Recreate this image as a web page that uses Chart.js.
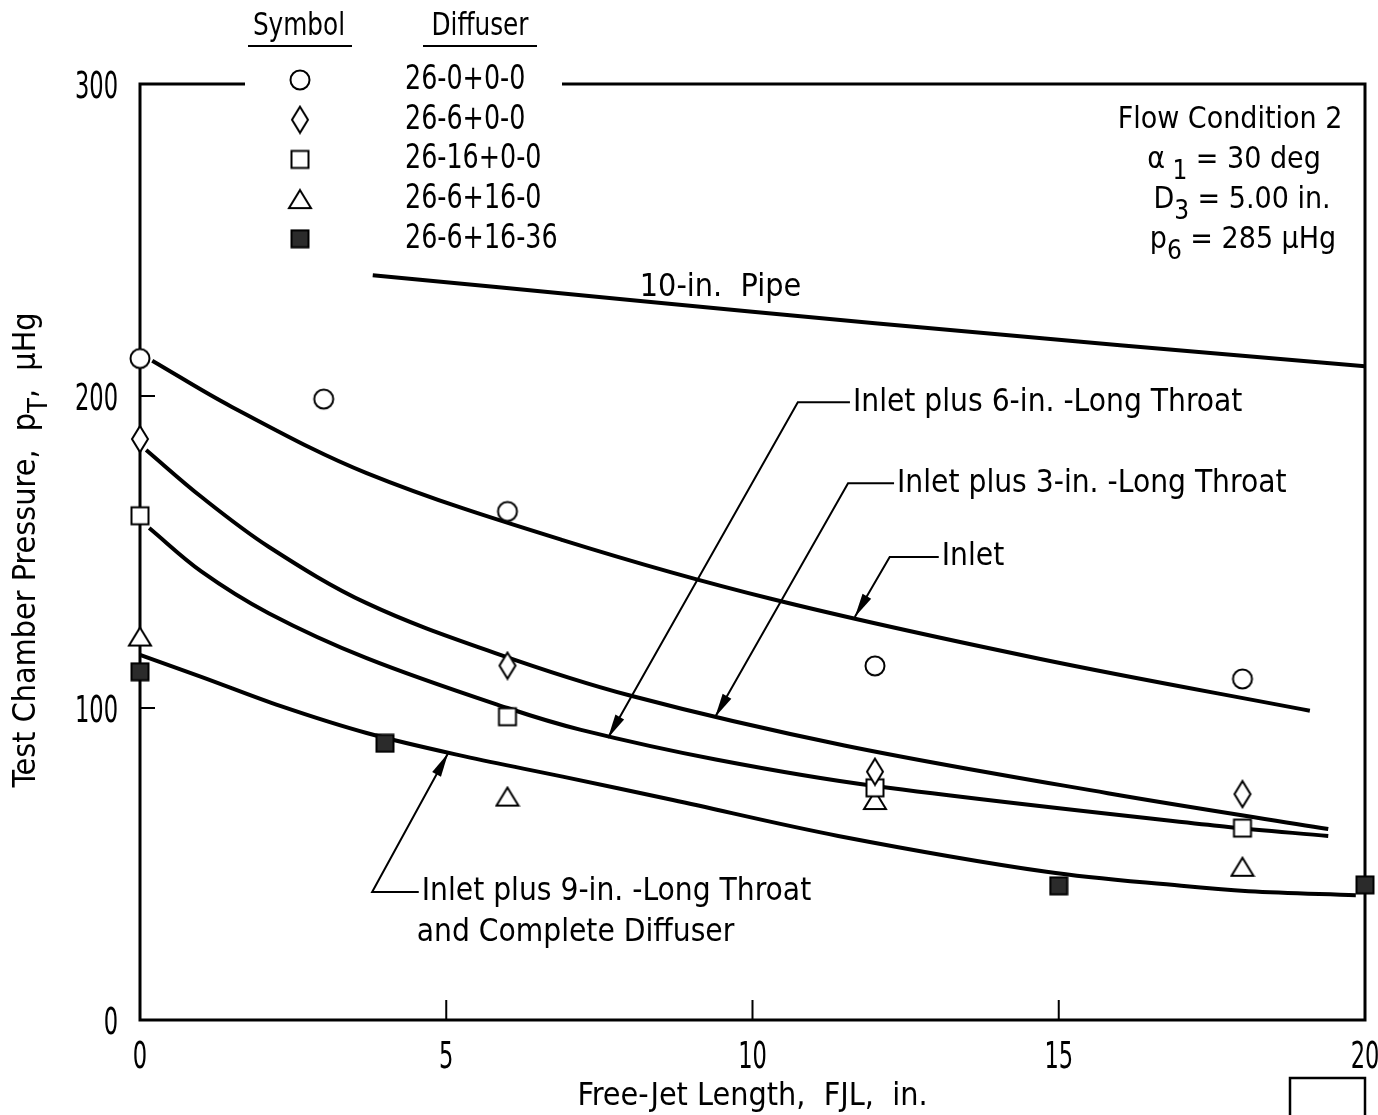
<!DOCTYPE html>
<html lang="en">
  <head>
    <meta charset="UTF-8" />
    <title>Test Chamber Pressure vs Free-Jet Length</title>
    <script src="https://cdn.jsdelivr.net/npm/chart.js"></script>
    <style>
      html, body { margin: 0; padding: 0; background: #fff; }
      #wrap { width: 1378px; height: 1115px; position: relative; }
    </style>
  </head>
  <body>
    <div id="wrap"><canvas id="myChart"></canvas></div>

    <script>
      // ---- data ----
      const xTicks = [0, 5, 10, 15, 20];
      const yTicks = [0, 100, 200, 300];

      const diffusers = ["26-0+0-0", "26-6+0-0", "26-16+0-0", "26-6+16-0", "26-6+16-36"];

      const circleX = [0, 3, 6, 12, 18];
      const circleY = [212, 199, 163, 113.5, 109.3];
      const diamondX = [0, 6, 12, 18];
      const diamondY = [186.2, 113.6, 79.6, 72.4];
      const squareX = [0, 6, 12, 18];
      const squareY = [161.6, 97.2, 74.4, 61.5];
      const triangleX = [0, 6, 12, 18];
      const triangleY = [122.9, 71.6, 70.5, 49.1];
      const filledX = [0, 4, 15, 20];
      const filledY = [111.6, 88.7, 43, 43.3];

      const pipeX = [3.8, 8, 12, 16, 20];
      const pipeY = [238.7, 230.8, 223.3, 216.3, 209.5];
      const inletX = [0.2, 1.5, 3.7, 6.9, 10.3, 14.7, 19.1];
      const inletY = [211.3, 196.5, 175.3, 153.8, 135, 115.7, 99.1];
      const throat3X = [0.1, 1, 2.1, 3.7, 5.8, 8, 11.5, 15.8, 19.4];
      const throat3Y = [182.7, 167.7, 151.7, 133.6, 117.6, 104, 88, 72.7, 61.2];
      const throat6X = [0.15, 1, 2.1, 3.7, 6, 7.2, 9.4, 12, 17.7, 19.4];
      const throat6Y = [157.7, 143.8, 130.4, 116, 100, 93, 83.5, 75, 62, 59];
      const throat9X = [0, 1, 2.3, 3.7, 5.3, 6.9, 8.7, 11.4, 14.8, 17, 18.1, 19.85];
      const throat9Y = [117, 110, 100.6, 92, 84.5, 78, 70.5, 59, 47.5, 43, 41.3, 40];

      const FONT = '"DejaVu Sans Condensed", "DejaVu Sans", sans-serif';

      function pts(xs, ys) {
        return xs.map((x, i) => ({ x: x, y: ys[i] }));
      }

      // small canvases used as point styles
      function marker(kind) {
        const c = document.createElement("canvas");
        const sizes = { circle: [24, 24], diamond: [20, 30], square: [22, 22], triangle: [26, 22], filled: [20, 20] };
        c.width = sizes[kind][0];
        c.height = sizes[kind][1];
        const g = c.getContext("2d");
        const w = c.width, h = c.height;
        g.lineWidth = 2;
        g.strokeStyle = "#000";
        g.fillStyle = "#fff";
        g.beginPath();
        if (kind === "circle") {
          g.arc(w / 2, h / 2, 9.5, 0, Math.PI * 2);
        } else if (kind === "diamond") {
          g.moveTo(w / 2, 2);
          g.lineTo(w - 2, h / 2);
          g.lineTo(w / 2, h - 2);
          g.lineTo(2, h / 2);
          g.closePath();
        } else if (kind === "square") {
          g.rect(2.5, 2.5, w - 5, h - 5);
        } else if (kind === "triangle") {
          g.moveTo(w / 2, 2);
          g.lineTo(w - 2, h - 2);
          g.lineTo(2, h - 2);
          g.closePath();
        } else {
          g.rect(1.5, 1.5, w - 3, h - 3);
          g.fillStyle = "#2b2b2b";
        }
        g.fill();
        g.stroke();
        return c;
      }

      function curve(xs, ys) {
        return {
          type: "line",
          data: pts(xs, ys),
          borderColor: "#000",
          borderWidth: 4,
          pointRadius: 0,
          tension: 0.35,
          order: 2,
        };
      }

      function symbols(label, xs, ys, kind) {
        return {
          type: "scatter",
          label: label,
          data: pts(xs, ys),
          pointStyle: marker(kind),
          pointRadius: 10,
          clip: false,
          order: 1,
        };
      }

      const markerSets = [
        symbols(diffusers[0], circleX, circleY, "circle"),
        symbols(diffusers[1], diamondX, diamondY, "diamond"),
        symbols(diffusers[2], squareX, squareY, "square"),
        symbols(diffusers[3], triangleX, triangleY, "triangle"),
        symbols(diffusers[4], filledX, filledY, "filled"),
      ];

      // condensed-looking text: squeeze horizontally
      function sText(ctx, str, x, y, size, sx, align) {
        ctx.save();
        ctx.translate(x, y);
        ctx.scale(sx, 1);
        ctx.font = size + "px " + FONT;
        ctx.textAlign = align || "left";
        ctx.textBaseline = "middle";
        ctx.fillText(str, 0, 0);
        ctx.restore();
      }

      // text with subscripts: parts = [[text, isSub], ...]
      function richText(ctx, parts, x, y, size, sx, align) {
        const big = size + "px " + FONT;
        const small = Math.round(size * 0.85) + "px " + FONT;
        let total = 0;
        parts.forEach((p) => {
          ctx.font = p[1] ? small : big;
          total += ctx.measureText(p[0]).width;
        });
        ctx.save();
        ctx.translate(x, y);
        ctx.scale(sx, 1);
        let cx = align === "center" ? -total / 2 : 0;
        ctx.textAlign = "left";
        ctx.textBaseline = "middle";
        parts.forEach((p) => {
          ctx.font = p[1] ? small : big;
          ctx.fillText(p[0], cx, p[1] ? size * 0.4 : 0);
          cx += ctx.measureText(p[0]).width;
        });
        ctx.restore();
      }

      // leader lines: text anchor, elbow, arrow tip (data units)
      const leaders = [
        { lines: ["Inlet plus 6-in. -Long Throat"], text: [11.64, 198], elbow: [10.74, 198], tip: [7.64, 90.4] },
        { lines: ["Inlet plus 3-in. -Long Throat"], text: [12.36, 172], elbow: [11.56, 172], tip: [9.39, 97.1] },
        { lines: ["Inlet"], text: [13.09, 148.4], elbow: [12.24, 148.4], tip: [11.67, 129.2] },
        { lines: ["Inlet plus 9-in. -Long Throat", "and Complete Diffuser"], text: [4.6, 41], elbow: [3.79, 41], tip: [5.03, 85.5] },
      ];

      const decorations = {
        id: "decorations",
        beforeDatasetsDraw(chart) {
          const ctx = chart.ctx;
          const a = chart.chartArea;
          const xs = chart.scales.x, ys = chart.scales.y;
          ctx.save();
          ctx.strokeStyle = "#000";
          ctx.lineWidth = 3;
          ctx.beginPath();
          ctx.moveTo(245, a.top);
          ctx.lineTo(a.left, a.top);
          ctx.lineTo(a.left, a.bottom);
          ctx.lineTo(a.right, a.bottom);
          ctx.lineTo(a.right, a.top);
          ctx.lineTo(562, a.top);
          ctx.stroke();
          // inward ticks
          ctx.lineWidth = 2;
          ctx.beginPath();
          xTicks.slice(1, -1).forEach((v) => {
            const px = xs.getPixelForValue(v);
            ctx.moveTo(px, a.bottom);
            ctx.lineTo(px, a.bottom - 20);
          });
          yTicks.slice(1, -1).forEach((v) => {
            const py = ys.getPixelForValue(v);
            ctx.moveTo(a.left, py);
            ctx.lineTo(a.left + 15, py);
          });
          ctx.stroke();
          ctx.restore();
        },
        afterDraw(chart) {
          const ctx = chart.ctx;
          const a = chart.chartArea;
          const xs = chart.scales.x, ys = chart.scales.y;
          ctx.save();
          ctx.fillStyle = "#000";
          ctx.strokeStyle = "#000";

          // tick labels from the scales
          xs.ticks.forEach((t) => {
            sText(ctx, String(t.value), xs.getPixelForValue(t.value), 1058, 38, 0.66, "center");
          });
          ys.ticks.forEach((t) => {
            sText(ctx, String(t.value), 118, ys.getPixelForValue(t.value) + 4, 38, 0.66, "right");
          });

          // legend table
          sText(ctx, "Symbol", 299, 27, 32, 0.86, "center");
          sText(ctx, "Diffuser", 480, 27, 32, 0.86, "center");
          ctx.lineWidth = 2;
          ctx.beginPath();
          ctx.moveTo(248, 46); ctx.lineTo(352, 46);
          ctx.moveTo(423, 46); ctx.lineTo(537, 46);
          ctx.stroke();
          markerSets.forEach((ds, i) => {
            const rowY = 80 + i * 39.7;
            const img = ds.pointStyle;
            ctx.drawImage(img, 300 - img.width / 2, rowY - img.height / 2);
            sText(ctx, ds.label, 405, rowY, 34, 0.83, "left");
          });

          // flow condition block
          richText(ctx, [["Flow Condition 2", false]], 1230, 120, 30, 1, "center");
          richText(ctx, [["\u03b1", false], [" 1", true], [" = 30 deg", false]], 1234, 160, 30, 1, "center");
          richText(ctx, [["D", false], ["3", true], [" = 5.00 in.", false]], 1242, 200, 30, 1, "center");
          richText(ctx, [["p", false], ["6", true], [" = 285 \u00b5Hg", false]], 1243, 240, 30, 1, "center");

          // pipe label
          sText(ctx, "10-in.  Pipe", xs.getPixelForValue(8.16), ys.getPixelForValue(234.6), 32, 1, "left");

          // leader annotations
          leaders.forEach((l) => {
            const tx = xs.getPixelForValue(l.text[0]), ty = ys.getPixelForValue(l.text[1]);
            const ex = xs.getPixelForValue(l.elbow[0]);
            const px = xs.getPixelForValue(l.tip[0]), py = ys.getPixelForValue(l.tip[1]);
            ctx.lineWidth = 2;
            ctx.beginPath();
            ctx.moveTo(tx - 3, ty);
            ctx.lineTo(ex, ty);
            ctx.lineTo(px, py);
            ctx.stroke();
            const ang = Math.atan2(py - ty, px - ex);
            ctx.save();
            ctx.translate(px, py);
            ctx.rotate(ang);
            ctx.beginPath();
            ctx.moveTo(0, 0);
            ctx.lineTo(-24, -5);
            ctx.lineTo(-24, 5);
            ctx.closePath();
            ctx.fill();
            ctx.restore();
            l.lines.forEach((s, i) => {
              sText(ctx, s, tx + (i === 0 ? 0 : -5), ty + i * 41, 32, 0.98, "left");
            });
          });

          // axis titles
          sText(ctx, "Free-Jet Length,  FJL,  in.", (a.left + a.right) / 2, 1097, 32, 1, "center");
          ctx.save();
          ctx.translate(27, 550);
          ctx.rotate(-Math.PI / 2);
          richText(ctx, [["Test Chamber Pressure,  p", false], ["T", true], [",  \u00b5Hg", false]], 0, 0, 32, 1, "center");
          ctx.restore();

          // photo number box
          ctx.lineWidth = 2.5;
          ctx.strokeRect(1290, 1078, 75, 60);
          ctx.restore();
        },
      };

      const ctx = document.getElementById("myChart").getContext("2d");
      new Chart(ctx, {
        data: {
          datasets: markerSets.concat([
            curve(pipeX, pipeY),
            curve(inletX, inletY),
            curve(throat3X, throat3Y),
            curve(throat6X, throat6Y),
            curve(throat9X, throat9Y),
          ]),
        },
        options: {
          responsive: true,
          maintainAspectRatio: false,
          devicePixelRatio: 1,
          animation: false,
          layout: { padding: { left: 0, top: 84, right: 13, bottom: 0 } },
          plugins: { legend: { display: false }, tooltip: { enabled: false } },
          scales: {
            x: {
              type: "linear",
              min: 0,
              max: 20,
              afterFit: (s) => { s.height = 95; s.paddingLeft = 0; s.paddingRight = 0; },
              afterBuildTicks: (s) => { s.ticks = xTicks.map((v) => ({ value: v })); },
              grid: { display: false },
              border: { display: false },
              ticks: { display: false },
            },
            y: {
              type: "linear",
              min: 0,
              max: 300,
              afterFit: (s) => { s.width = 140; s.paddingTop = 0; s.paddingBottom = 0; },
              afterBuildTicks: (s) => { s.ticks = yTicks.map((v) => ({ value: v })); },
              grid: { display: false },
              border: { display: false },
              ticks: { display: false },
            },
          },
        },
        plugins: [decorations],
      });
    </script>
  </body>
</html>
